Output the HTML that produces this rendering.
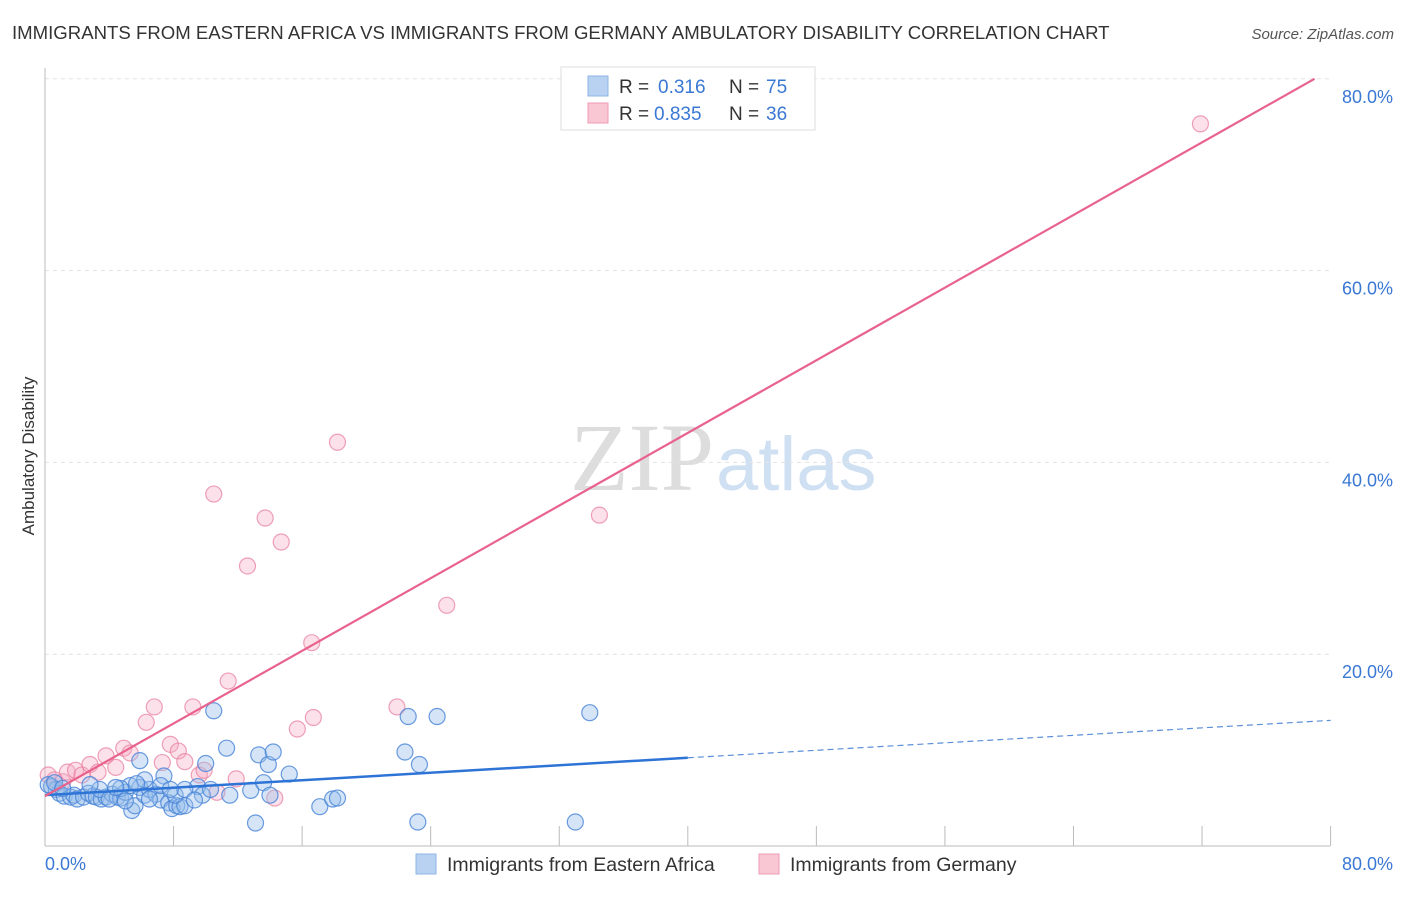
<!DOCTYPE html>
<html><head><meta charset="utf-8"><style>
body{margin:0;background:#fff;font-family:"Liberation Sans",sans-serif;}
</style></head><body>
<svg id="chart" width="1406" height="892" xmlns="http://www.w3.org/2000/svg">
<text x="12" y="39" font-size="18.6" fill="#333">IMMIGRANTS FROM EASTERN AFRICA VS IMMIGRANTS FROM GERMANY AMBULATORY DISABILITY CORRELATION CHART</text>
<text x="1394" y="39" font-size="15" fill="#555" font-style="italic" text-anchor="end">Source: ZipAtlas.com</text>
<text x="714" y="490" font-size="96" fill="#ddd" text-anchor="end" font-family="Liberation Serif,serif">ZIP</text>
<text x="716" y="490" font-size="76" fill="#cfe0f3">atlas</text>
<g id="grid"></g><g id="axes"></g><g id="marks"></g>
<text transform="translate(34,456) rotate(-90)" font-size="17" fill="#333" text-anchor="middle">Ambulatory Disability</text>
<g>
<rect x="561" y="67" width="254" height="63" fill="#fff" stroke="#ddd"/>
<rect x="588" y="76" width="20" height="20" fill="#b9d2f2" stroke="#8fb4e6"/>
<rect x="588" y="103" width="20" height="20" fill="#f9c6d4" stroke="#ef9bb4"/>
<text x="619" y="93" font-size="19" fill="#333">R = </text><text x="658" y="93" font-size="19" fill="#3a78d4">0.316</text>
<text x="729" y="93" font-size="19" fill="#333">N = </text><text x="766" y="93" font-size="19" fill="#3a78d4">75</text>
<text x="619" y="120" font-size="19" fill="#333">R = </text><text x="654" y="120" font-size="19" fill="#3a78d4">0.835</text>
<text x="729" y="120" font-size="19" fill="#333">N = </text><text x="766" y="120" font-size="19" fill="#3a78d4">36</text>
</g>
<g>
<rect x="416" y="854" width="20" height="20" fill="#b9d2f2" stroke="#8fb4e6"/>
<text x="447" y="871" font-size="19.5" fill="#333">Immigrants from Eastern Africa</text>
<rect x="759" y="854" width="20" height="20" fill="#f9c6d4" stroke="#ef9bb4"/>
<text x="790" y="871" font-size="19.5" fill="#333">Immigrants from Germany</text>
</g>
</svg>
<script>
const xTicks=[0,8,16,24,32,40,48,56,64,72,80];
const yTicks=[20,40,60,80];
const blueX=[0.4,0.7,0.9,1.2,1.6,1.8,2.0,2.4,2.7,3.0,3.2,3.5,3.8,4.2,4.5,4.7,5.0,5.4,5.6,5.9,5.9,6.2,6.5,6.9,7.2,7.4,7.7,7.9,8.2,8.4,8.7,8.1,7.2,5.3,9.5,9.8,10.0,10.5,11.3,12.8,13.1,13.3,13.6,13.9,14.2,15.2,17.1,17.9,18.2,22.4,22.6,23.2,23.3,24.4,33.0,33.9,3.4,4.0,2.8,0.2,0.6,1.1,4.7,6.5,8.7,11.5,7.8,6.2,9.3,10.3,14.0,5.7,5.0,4.4];
const blueY=[6.2,5.9,5.5,5.2,5.1,5.3,4.9,5.1,5.5,5.2,5.1,4.9,5.1,5.4,5.1,5.0,5.6,3.7,4.2,8.9,6.1,5.3,5.9,5.4,4.8,7.3,4.5,3.9,4.2,4.1,4.2,5.3,6.3,6.3,6.2,5.3,8.6,14.1,10.2,5.8,2.4,9.5,6.6,8.5,9.8,7.5,4.1,4.9,5.0,9.8,13.5,2.5,8.5,13.5,2.5,13.9,5.9,4.9,6.4,6.4,6.6,6.0,6.0,4.9,5.9,5.3,5.9,6.9,4.8,5.9,5.3,6.5,4.7,6.1];
const pinkX=[0.2,0.6,1.1,1.4,1.9,2.3,2.8,3.3,3.8,4.4,4.9,5.3,6.3,6.8,7.3,7.8,8.3,8.7,9.2,9.6,9.9,10.5,10.7,11.4,11.9,12.6,13.7,14.3,14.7,15.7,16.6,16.7,18.2,21.9,25.0,34.5,71.9];
const pinkY=[7.4,6.9,6.7,7.7,7.9,7.4,8.5,7.7,9.4,8.2,10.2,9.7,12.9,14.5,8.7,10.6,9.9,8.8,14.5,7.4,7.9,36.7,5.6,17.2,7.0,29.2,34.2,5.0,31.7,12.2,21.2,13.4,42.1,14.5,25.1,34.5,75.3];
const pinkFit=[5.2,80.0];
const blueFit=[5.3,13.1];
const X=v=>45+v*16.07, Y=v=>846-v*9.59;
const NS="http://www.w3.org/2000/svg";
function mk(p,t,a){const e=document.createElementNS(NS,t);for(const k in a)e.setAttribute(k,a[k]);document.getElementById(p).appendChild(e);return e;}
yTicks.forEach(t=>{
 const l=mk('grid','line',{x1:45,x2:1330,y1:Y(t),y2:Y(t),stroke:'#e2e2e2','stroke-dasharray':'4,4'});
 
 
 const tx=mk('axes','text',{x:1393,y:Y(t)+24,'font-size':18,fill:'#3a78d4','text-anchor':'end'});tx.textContent=t.toFixed(1)+'%';
 
 
});
let a=mk('axes','line',{x1:45,x2:45,y1:68,y2:846,stroke:'#bbb'});


a=mk('axes','line',{x1:45,x2:1330,y1:846,y2:846,stroke:'#bbb'});


xTicks.forEach(t=>{
 if(t>0){const l=mk('axes','line',{x1:X(t),x2:X(t),y1:826,y2:846,stroke:'#bbb'});
 
 }
});
[[0,'0.0%',45,'start'],[80,'80.0%',1393,'end']].forEach(d=>{
 const tx=mk('axes','text',{x:d[2],y:870,'font-size':18,fill:'#3a78d4','text-anchor':d[3]});tx.textContent=d[1];
 
 
});
pinkX.forEach((v,i)=>{const c=mk('marks','circle',{cx:X(v),cy:Y(pinkY[i]),r:8,fill:'rgba(246,170,194,0.35)',stroke:'rgba(232,130,160,0.75)','stroke-width':1.2});
 
 });
blueX.forEach((v,i)=>{const c=mk('marks','circle',{cx:X(v),cy:Y(blueY[i]),r:8,fill:'rgba(150,190,235,0.4)',stroke:'rgba(70,130,215,0.8)','stroke-width':1.2});
 
 });
const bAt=v=>blueFit[0]+(blueFit[1]-blueFit[0])*v/80;
let ln=mk('marks','line',{x1:X(0),y1:Y(bAt(0)),x2:X(40),y2:Y(bAt(40)),stroke:'#2e73d6','stroke-width':2.5});


ln=mk('marks','line',{x1:X(40),y1:Y(bAt(40)),x2:X(80),y2:Y(bAt(80)),stroke:'#5b8fd8','stroke-width':1.2,'stroke-dasharray':'6,4'});


ln=mk('marks','line',{x1:X(0),y1:Y(pinkFit[0]),x2:X(79),y2:Y(pinkFit[1]),stroke:'#e8628d','stroke-width':2.2});


</script>
</body></html>
